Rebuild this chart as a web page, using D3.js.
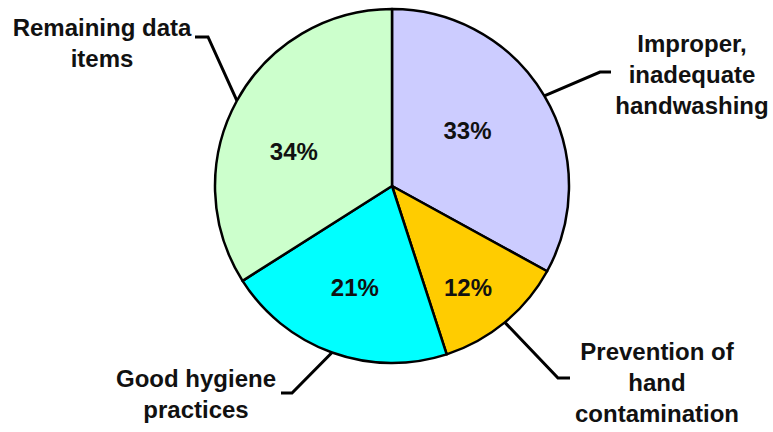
<!DOCTYPE html>
<html>
<head>
<meta charset="UTF-8">
<title>Pie chart</title>
<script src="https://d3js.org/d3.v7.min.js"></script>
<style>
  body { margin: 0; background: #fff; }
  text { font-family: "Liberation Sans", Arial, sans-serif; font-weight: bold; fill: #111; }
</style>
</head>
<body>
<script>
  // data
  var categories = ["Improper, inadequate handwashing", "Prevention of hand contamination",
                    "Good hygiene practices", "Remaining data items"];
  var shares = [33, 12, 21, 34];
  var labelLines = [["Improper,", "inadequate", "handwashing"],
                    ["Prevention of", "hand", "contamination"],
                    ["Good hygiene", "practices"],
                    ["Remaining data", "items"]];
  var colors = ["#CCCCFF", "#FFCC00", "#00FFFF", "#CCFFCC"];

  var width = 773, height = 432;
  var cx = 392, cy = 186, radius = 177;

  // label placement (text centre / first baseline, leader elbow, leader end)
  var labelPos = [
    { x: 692, y: 52,  elbow: [600, 72],  end: [611, 72] },
    { x: 657, y: 360, elbow: [558, 378], end: [570, 378] },
    { x: 196, y: 387, elbow: [292, 393], end: [281, 393] },
    { x: 102, y: 36,  elbow: [208, 37],  end: [195, 37] }
  ];
  var pctNudge = [[-19, 0], [6, 17], [0, -2], [-2, 18]];

  var svg = d3.select("body").append("svg")
      .attr("width", width)
      .attr("height", height);

  var g = svg.append("g")
      .attr("transform", "translate(" + cx + "," + cy + ")");

  var pie = d3.pie().sort(null).value(function(d) { return d; });
  var arc = d3.arc().innerRadius(0).outerRadius(radius);
  var edge = d3.arc().innerRadius(radius).outerRadius(radius);
  var inner = d3.arc().innerRadius(radius * 0.62).outerRadius(radius * 0.62);

  var arcs = pie(shares);

  g.selectAll("path.slice")
    .data(arcs)
    .enter().append("path")
      .attr("class", "slice")
      .attr("d", arc)
      .attr("fill", function(d, i) { return colors[i]; })
      .attr("stroke", "#000")
      .attr("stroke-width", 2.5)
      .attr("stroke-linejoin", "round");

  // percentage labels
  g.selectAll("text.pct")
    .data(arcs)
    .enter().append("text")
      .attr("class", "pct")
      .attr("transform", function(d, i) {
        var c = inner.centroid(d);
        return "translate(" + (c[0] + pctNudge[i][0]) + "," + (c[1] + pctNudge[i][1]) + ")";
      })
      .attr("text-anchor", "middle")
      .attr("dy", "0.36em")
      .style("font-size", "24px")
      .text(function(d) { return d.data + "%"; });

  // leader lines
  svg.selectAll("polyline.leader")
    .data(arcs)
    .enter().append("polyline")
      .attr("class", "leader")
      .attr("fill", "none")
      .attr("stroke", "#000")
      .attr("stroke-width", 3)
      .attr("points", function(d, i) {
        var c = edge.centroid(d);
        var p = labelPos[i];
        return [[c[0] + cx, c[1] + cy], p.elbow, p.end].join(" ");
      });

  // category labels
  var lab = svg.selectAll("text.cat")
    .data(categories)
    .enter().append("text")
      .attr("class", "cat")
      .attr("text-anchor", "middle")
      .style("font-size", "24px")
      .attr("transform", function(d, i) { return "translate(" + labelPos[i].x + "," + labelPos[i].y + ")"; });

  lab.selectAll("tspan")
    .data(function(d, i) { return labelLines[i]; })
    .enter().append("tspan")
      .attr("x", 0)
      .attr("y", function(d, j) { return j * 31; })
      .text(function(d) { return d; });
</script>
</body>
</html>
